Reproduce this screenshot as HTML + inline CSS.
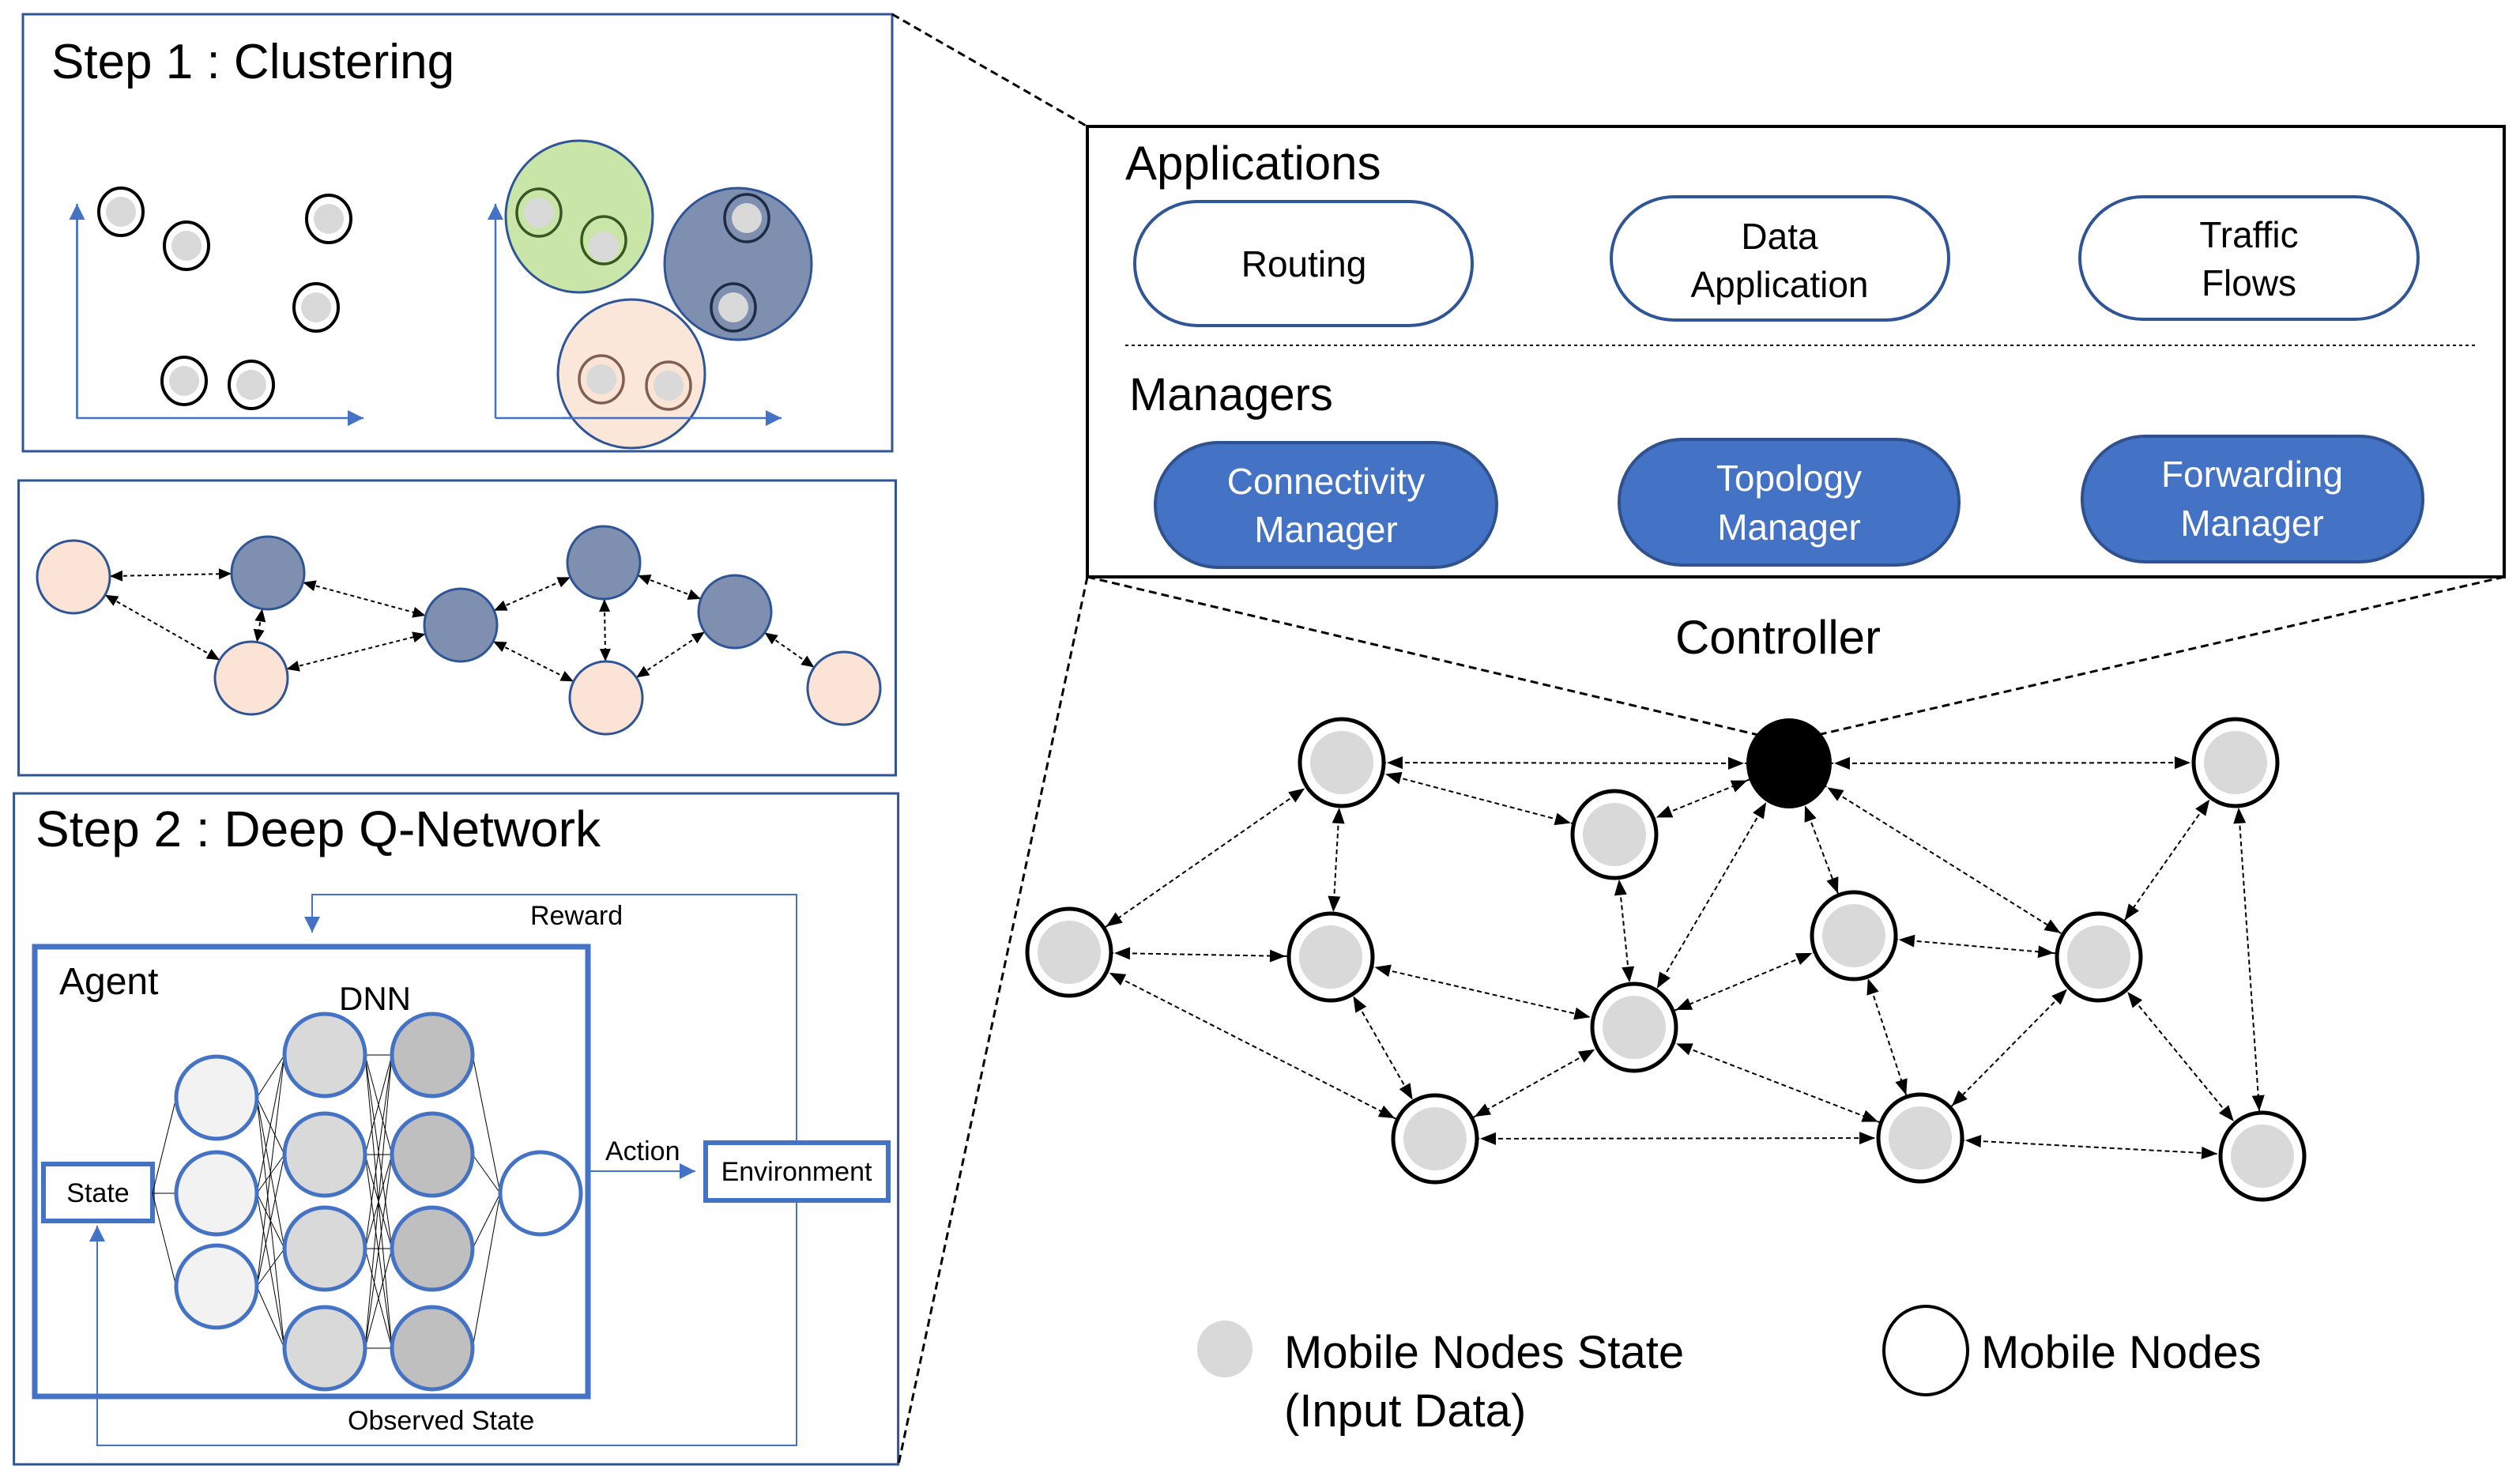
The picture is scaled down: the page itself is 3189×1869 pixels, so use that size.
<!DOCTYPE html>
<html><head><meta charset="utf-8"><style>html,body{margin:0;padding:0;background:#fff}svg{display:block}text{font-family:"Liberation Sans",sans-serif}</style></head><body>
<svg width="3189" height="1869" viewBox="0 0 3189 1869" xmlns="http://www.w3.org/2000/svg">
<defs>
<marker id="ab" markerUnits="userSpaceOnUse" markerWidth="200" markerHeight="200" viewBox="0 0 200 200" refX="77" refY="8" orient="auto-start-reverse" style="overflow:visible"><path d="M0,0 L20,8 L0,16 z" fill="#000"/></marker>
<marker id="as" markerUnits="userSpaceOnUse" markerWidth="200" markerHeight="200" viewBox="0 0 200 200" refX="62" refY="7" orient="auto-start-reverse" style="overflow:visible"><path d="M0,0 L16,7 L0,14 z" fill="#000"/></marker>
<marker id="bl" markerUnits="userSpaceOnUse" markerWidth="40" markerHeight="40" viewBox="0 0 40 40" refX="20" refY="10" orient="auto" style="overflow:visible"><path d="M0,0 L20,10 L0,20 z" fill="#4472c4"/></marker>
</defs>

<!-- Panel 1 -->
<rect x="29" y="18" width="1100" height="553" fill="none" stroke="#2f5597" stroke-width="3"/>
<text x="65" y="99" font-size="62">Step 1 : Clustering</text>
<g stroke="#4472c4" stroke-width="2.5" fill="none">
<polyline points="97.5,262 97.5,529 460,529" marker-end="url(#bl)"/>
<line x1="97.5" y1="529" x2="97.5" y2="258" marker-end="url(#bl)"/>
<line x1="627" y1="529" x2="627" y2="258" marker-end="url(#bl)"/>
<line x1="627" y1="529" x2="989" y2="529" marker-end="url(#bl)"/>
</g>
<g>
<g stroke="#000" stroke-width="4" fill="#fff">
<ellipse cx="153" cy="268" rx="28" ry="30"/><ellipse cx="236" cy="311" rx="28" ry="30"/><ellipse cx="416" cy="277" rx="28" ry="30"/><ellipse cx="400" cy="389" rx="28" ry="30"/><ellipse cx="233" cy="482" rx="28" ry="30"/><ellipse cx="318" cy="487" rx="28" ry="30"/>
</g>
<g fill="#d9d9d9">
<circle cx="153" cy="268" r="19"/><circle cx="236" cy="311" r="19"/><circle cx="416" cy="277" r="19"/><circle cx="400" cy="389" r="19"/><circle cx="233" cy="482" r="19"/><circle cx="318" cy="487" r="19"/>
</g>
</g>
<ellipse cx="733" cy="274" rx="93" ry="96" fill="#c9e5a8" stroke="#2f5597" stroke-width="3"/>
<ellipse cx="934" cy="334" rx="93" ry="96" fill="#7f8fb0" stroke="#2f5597" stroke-width="3"/>
<ellipse cx="799" cy="473" rx="93" ry="94" fill="#fbe3d6" fill-opacity="0.9" stroke="#2f5597" stroke-width="3"/>
<line x1="712" y1="529" x2="880" y2="529" stroke="#4472c4" stroke-width="2.5"/>
<g stroke-width="3.5">
<ellipse cx="682" cy="269" rx="28" ry="30" fill="#c9e5a8" stroke="#385723"/><circle cx="682" cy="269" r="19" fill="#d9d9d9"/>
<ellipse cx="764" cy="304" rx="28" ry="30" fill="#c9e5a8" stroke="#385723"/><circle cx="764" cy="312" r="19" fill="#d9d9d9"/>
<ellipse cx="945" cy="276" rx="28" ry="30" fill="#7f8fb0" stroke="#1f2a44"/><circle cx="945" cy="276" r="19" fill="#d9d9d9"/>
<ellipse cx="928" cy="389" rx="28" ry="30" fill="#7f8fb0" stroke="#1f2a44"/><circle cx="928" cy="389" r="19" fill="#d9d9d9"/>
<ellipse cx="761" cy="480" rx="28" ry="30" fill="#fbe3d6" stroke="#7f6050"/><circle cx="761" cy="480" r="19" fill="#d9d9d9"/>
<ellipse cx="846" cy="488" rx="28" ry="30" fill="#fbe3d6" stroke="#7f6050"/><circle cx="846" cy="488" r="19" fill="#d9d9d9"/>
</g>

<!-- Panel 2 -->
<rect x="23.5" y="608" width="1110" height="373" fill="none" stroke="#2f5597" stroke-width="3"/>
<g stroke="#000" stroke-width="2" stroke-dasharray="5,4" marker-start="url(#as)" marker-end="url(#as)">
<line x1="93" y1="730" x2="339" y2="725"/>
<line x1="93" y1="730" x2="318" y2="858"/>
<line x1="339" y1="725" x2="318" y2="858"/>
<line x1="339" y1="725" x2="583" y2="791"/>
<line x1="318" y1="858" x2="583" y2="791"/>
<line x1="583" y1="791" x2="764" y2="712"/>
<line x1="583" y1="791" x2="767" y2="883"/>
<line x1="764" y1="712" x2="767" y2="883"/>
<line x1="764" y1="712" x2="930" y2="774"/>
<line x1="767" y1="883" x2="930" y2="774"/>
<line x1="930" y1="774" x2="1068" y2="871"/>
</g>
<g stroke="#2f5597" stroke-width="3">
<circle cx="93" cy="730" r="46" fill="#fbe3d6"/><circle cx="339" cy="725" r="46" fill="#7f8fb0"/><circle cx="318" cy="858" r="46" fill="#fbe3d6"/><circle cx="583" cy="791" r="46" fill="#7f8fb0"/><circle cx="764" cy="712" r="46" fill="#7f8fb0"/><circle cx="767" cy="883" r="46" fill="#fbe3d6"/><circle cx="930" cy="774" r="46" fill="#7f8fb0"/><circle cx="1068" cy="871" r="46" fill="#fbe3d6"/>
</g>

<!-- Panel 3 -->
<rect x="17.6" y="1004" width="1119" height="849" fill="none" stroke="#2f5597" stroke-width="3"/>
<text x="45" y="1071" font-size="64">Step 2 : Deep Q-Network</text>
<polyline points="1008,1446 1008,1132 395,1132 395,1180" fill="none" stroke="#4472c4" stroke-width="2"/>
<line x1="395" y1="1160" x2="395" y2="1180" stroke="#4472c4" stroke-width="2" marker-end="url(#bl)"/>
<text x="671" y="1170" font-size="34">Reward</text>
<rect x="44" y="1198" width="700" height="569" fill="none" stroke="#4472c4" stroke-width="7"/>
<text x="75" y="1258" font-size="48">Agent</text>
<text x="429" y="1278" font-size="42">DNN</text>
<polyline points="1008,1519 1008,1829 123,1829 123,1570" fill="none" stroke="#4472c4" stroke-width="2"/>
<line x1="123" y1="1580" x2="123" y2="1551" stroke="#4472c4" stroke-width="2" marker-end="url(#bl)"/>
<text x="440" y="1809" font-size="34">Observed State</text>
<line x1="744" y1="1482" x2="880" y2="1482" stroke="#4472c4" stroke-width="2" marker-end="url(#bl)"/>
<text x="766" y="1468" font-size="34">Action</text>
<rect x="893" y="1446" width="231" height="73" fill="#fff" stroke="#4472c4" stroke-width="6"/>
<text x="1008" y="1494" font-size="34" text-anchor="middle">Environment</text>
<rect x="55" y="1473" width="138" height="72" fill="#fff" stroke="#4472c4" stroke-width="6"/>
<text x="124" y="1521" font-size="34" text-anchor="middle">State</text>
<g stroke="#000" stroke-width="1">
<line x1="193" y1="1510" x2="223" y2="1389"/><line x1="193" y1="1510" x2="223" y2="1510"/><line x1="193" y1="1510" x2="223" y2="1628"/>
<line x1="325" y1="1389" x2="360" y2="1335"/><line x1="325" y1="1389" x2="360" y2="1461"/><line x1="325" y1="1389" x2="360" y2="1580"/><line x1="325" y1="1389" x2="360" y2="1706"/>
<line x1="325" y1="1510" x2="360" y2="1335"/><line x1="325" y1="1510" x2="360" y2="1461"/><line x1="325" y1="1510" x2="360" y2="1580"/><line x1="325" y1="1510" x2="360" y2="1706"/>
<line x1="325" y1="1628" x2="360" y2="1335"/><line x1="325" y1="1628" x2="360" y2="1461"/><line x1="325" y1="1628" x2="360" y2="1580"/><line x1="325" y1="1628" x2="360" y2="1706"/>
<line x1="462" y1="1335" x2="496" y2="1335"/><line x1="462" y1="1335" x2="496" y2="1461"/><line x1="462" y1="1335" x2="496" y2="1580"/><line x1="462" y1="1335" x2="496" y2="1706"/>
<line x1="462" y1="1461" x2="496" y2="1335"/><line x1="462" y1="1461" x2="496" y2="1461"/><line x1="462" y1="1461" x2="496" y2="1580"/><line x1="462" y1="1461" x2="496" y2="1706"/>
<line x1="462" y1="1580" x2="496" y2="1335"/><line x1="462" y1="1580" x2="496" y2="1461"/><line x1="462" y1="1580" x2="496" y2="1580"/><line x1="462" y1="1580" x2="496" y2="1706"/>
<line x1="462" y1="1706" x2="496" y2="1335"/><line x1="462" y1="1706" x2="496" y2="1461"/><line x1="462" y1="1706" x2="496" y2="1580"/><line x1="462" y1="1706" x2="496" y2="1706"/>
<line x1="598" y1="1335" x2="633" y2="1510"/><line x1="598" y1="1461" x2="633" y2="1510"/><line x1="598" y1="1580" x2="633" y2="1510"/><line x1="598" y1="1706" x2="633" y2="1510"/>
</g>
<g stroke="#4472c4" stroke-width="5">
<ellipse cx="274" cy="1389" rx="51" ry="52" fill="#f2f2f2"/><ellipse cx="274" cy="1510" rx="51" ry="52" fill="#f2f2f2"/><ellipse cx="274" cy="1628" rx="51" ry="52" fill="#f2f2f2"/>
<ellipse cx="411" cy="1335" rx="51" ry="52" fill="#d9d9d9"/><ellipse cx="411" cy="1461" rx="51" ry="52" fill="#d9d9d9"/><ellipse cx="411" cy="1580" rx="51" ry="52" fill="#d9d9d9"/><ellipse cx="411" cy="1706" rx="51" ry="52" fill="#d9d9d9"/>
<ellipse cx="547" cy="1335" rx="51" ry="52" fill="#bfbfbf"/><ellipse cx="547" cy="1461" rx="51" ry="52" fill="#bfbfbf"/><ellipse cx="547" cy="1580" rx="51" ry="52" fill="#bfbfbf"/><ellipse cx="547" cy="1706" rx="51" ry="52" fill="#bfbfbf"/>
<ellipse cx="684" cy="1510" rx="51" ry="52" fill="#fff"/>
</g>

<!-- Right: controller box -->
<g stroke="#000" stroke-width="3" stroke-dasharray="10,6" fill="none">
<line x1="1129" y1="18" x2="1376" y2="160"/>
<line x1="1376" y1="730" x2="1137" y2="1853"/>
<line x1="1376" y1="730" x2="2225" y2="930"/>
<line x1="3169" y1="730" x2="2300" y2="930"/>
</g>
<rect x="1376" y="160" width="1793" height="570" fill="none" stroke="#000" stroke-width="4"/>
<text x="1424" y="227" font-size="60">Applications</text>
<g fill="#fff" stroke="#2f5597" stroke-width="4">
<rect x="1436" y="255" width="427" height="157" rx="80" ry="78"/>
<rect x="2039" y="249" width="427" height="156" rx="80" ry="78"/>
<rect x="2632" y="249" width="428" height="155" rx="80" ry="78"/>
</g>
<g font-size="46" text-anchor="middle">
<text x="1650" y="350">Routing</text>
<text x="2252" y="315">Data</text><text x="2252" y="376">Application</text>
<text x="2846" y="313">Traffic</text><text x="2846" y="374">Flows</text>
</g>
<line x1="1424" y1="437" x2="3136" y2="437" stroke="#000" stroke-width="2" stroke-dasharray="4,4"/>
<text x="1429" y="519" font-size="58">Managers</text>
<g fill="#4472c4" stroke="#2f528f" stroke-width="4">
<rect x="1462" y="560" width="432" height="158" rx="80" ry="79"/>
<rect x="2049" y="556" width="430" height="159" rx="80" ry="79"/>
<rect x="2635" y="552" width="431" height="159" rx="80" ry="79"/>
</g>
<g font-size="46" text-anchor="middle" fill="#fff">
<text x="1678" y="625">Connectivity</text><text x="1678" y="686">Manager</text>
<text x="2264" y="621">Topology</text><text x="2264" y="683">Manager</text>
<text x="2850" y="616">Forwarding</text><text x="2850" y="678">Manager</text>
</g>
<text x="2250" y="827" font-size="60" text-anchor="middle">Controller</text>

<!-- Network -->
<g stroke="#000" stroke-width="2" stroke-dasharray="6,4" marker-start="url(#ab)" marker-end="url(#ab)">
<line x1="1698" y1="965" x2="2264" y2="966"/>
<line x1="2264" y1="966" x2="2829" y2="965"/>
<line x1="1698" y1="965" x2="2043" y2="1056"/>
<line x1="2043" y1="1056" x2="2264" y2="966"/>
<line x1="1698" y1="965" x2="1353" y2="1205"/>
<line x1="1698" y1="965" x2="1684" y2="1211"/>
<line x1="1353" y1="1205" x2="1684" y2="1211"/>
<line x1="1353" y1="1205" x2="1816" y2="1441"/>
<line x1="1684" y1="1211" x2="2068" y2="1300"/>
<line x1="1684" y1="1211" x2="1816" y2="1441"/>
<line x1="2043" y1="1056" x2="2068" y2="1300"/>
<line x1="2264" y1="966" x2="2068" y2="1300"/>
<line x1="2264" y1="966" x2="2346" y2="1184"/>
<line x1="2264" y1="966" x2="2656" y2="1211"/>
<line x1="2829" y1="965" x2="2656" y2="1211"/>
<line x1="2829" y1="965" x2="2863" y2="1463"/>
<line x1="2346" y1="1184" x2="2068" y2="1300"/>
<line x1="2346" y1="1184" x2="2656" y2="1211"/>
<line x1="2346" y1="1184" x2="2430" y2="1440"/>
<line x1="2068" y1="1300" x2="1816" y2="1441"/>
<line x1="2068" y1="1300" x2="2430" y2="1440"/>
<line x1="2656" y1="1211" x2="2430" y2="1440"/>
<line x1="2656" y1="1211" x2="2863" y2="1463"/>
<line x1="1816" y1="1441" x2="2430" y2="1440"/>
<line x1="2430" y1="1440" x2="2863" y2="1463"/>
</g>
<ellipse cx="2264" cy="966" rx="54" ry="57" fill="#000"/>
<g>
<g stroke="#000" stroke-width="5" fill="#fff">
<ellipse cx="1698" cy="965" rx="53" ry="55"/><ellipse cx="2043" cy="1056" rx="53" ry="55"/><ellipse cx="2829" cy="965" rx="53" ry="55"/><ellipse cx="1353" cy="1205" rx="53" ry="55"/><ellipse cx="1684" cy="1211" rx="53" ry="55"/><ellipse cx="2346" cy="1184" rx="53" ry="55"/><ellipse cx="2656" cy="1211" rx="53" ry="55"/><ellipse cx="2068" cy="1300" rx="53" ry="55"/><ellipse cx="1816" cy="1441" rx="53" ry="55"/><ellipse cx="2430" cy="1440" rx="53" ry="55"/><ellipse cx="2863" cy="1463" rx="53" ry="55"/>
</g>
<g fill="#d9d9d9">
<ellipse cx="1698" cy="965" rx="40" ry="40"/><ellipse cx="2043" cy="1056" rx="40" ry="40"/><ellipse cx="2829" cy="965" rx="40" ry="40"/><ellipse cx="1353" cy="1205" rx="40" ry="40"/><ellipse cx="1684" cy="1211" rx="40" ry="40"/><ellipse cx="2346" cy="1184" rx="40" ry="40"/><ellipse cx="2656" cy="1211" rx="40" ry="40"/><ellipse cx="2068" cy="1300" rx="40" ry="40"/><ellipse cx="1816" cy="1441" rx="40" ry="40"/><ellipse cx="2430" cy="1440" rx="40" ry="40"/><ellipse cx="2863" cy="1463" rx="40" ry="40"/>
</g>
</g>

<!-- Legend -->
<ellipse cx="1550" cy="1707" rx="35" ry="36" fill="#d9d9d9"/>
<text x="1625" y="1731" font-size="58">Mobile Nodes State</text>
<text x="1625" y="1805" font-size="58">(Input Data)</text>
<ellipse cx="2437" cy="1709" rx="53" ry="56" fill="#fff" stroke="#000" stroke-width="4"/>
<text x="2507" y="1731" font-size="58">Mobile Nodes</text>
</svg>
</body></html>
